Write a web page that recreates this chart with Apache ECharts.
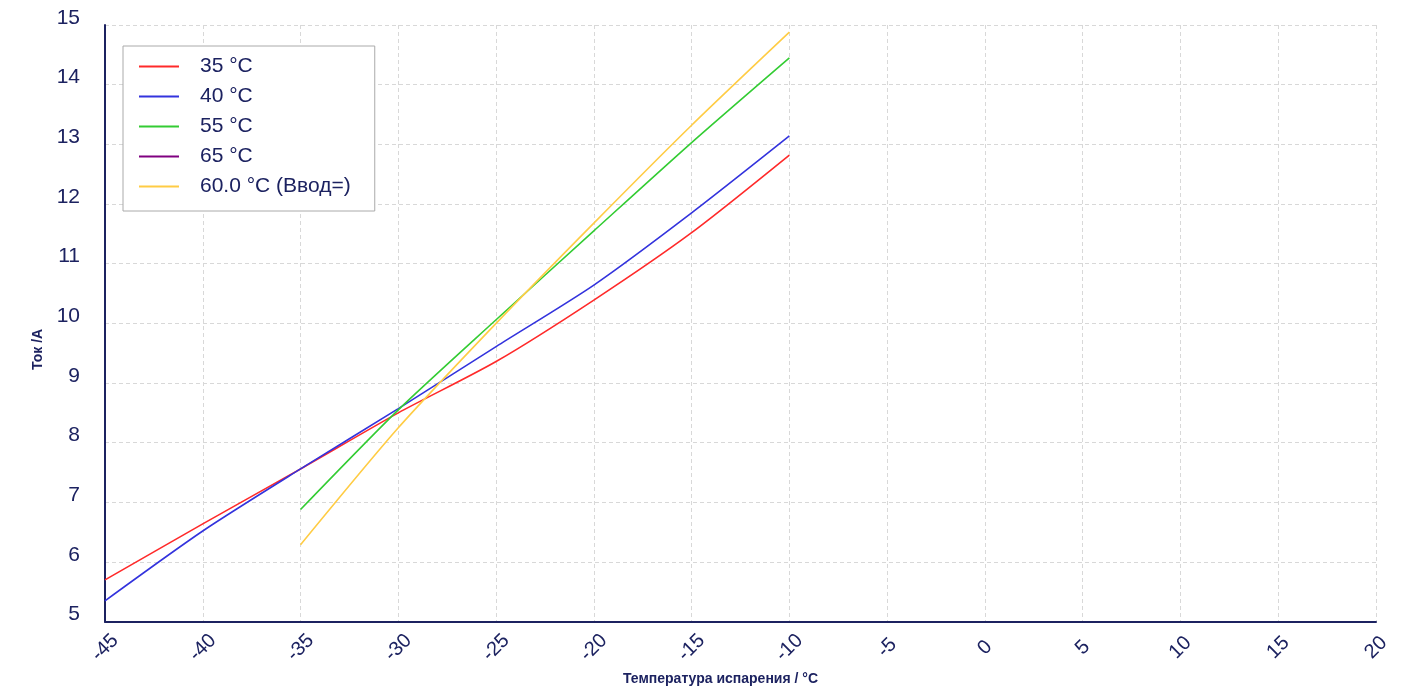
<!DOCTYPE html>
<html><head><meta charset="utf-8">
<script src="https://cdn.jsdelivr.net/npm/echarts@6/dist/echarts.min.js"></script>
<style>html,body{margin:0;padding:0;background:#fff}#c{width:1409px;height:691px}</style>
</head><body><div id="c"></div>
<script>
const xTicks = [-45,-40,-35,-30,-25,-20,-15,-10,-5,0,5,10,15,20];
const seriesNames = ['35 °C','40 °C','55 °C','65 °C','60.0 °C (Ввод=)'];
const seriesColors = ['#ff2a2a','#3333dd','#33cc33','#800080','#ffcc44'];
const temps35 = [-45,-40,-35,-30,-25,-20,-15,-10];
const vals35  = [5.70,6.64,7.56,8.50,9.36,10.39,11.52,12.82];
const temps40 = [-45,-40,-35,-30,-25,-20,-15,-10];
const vals40  = [5.35,6.52,7.56,8.57,9.61,10.64,11.85,13.14];
const temps55 = [-35,-30,-25,-20,-15,-10];
const vals55  = [6.88,8.55,10.06,11.55,13.03,14.45];
const temps65 = [];
const vals65  = [];
const temps60 = [-35,-30,-25,-20,-15,-10];
const vals60  = [6.29,8.25,10.00,11.68,13.32,14.88];

const pairs = (xs, ys) => xs.map((x,i)=>[x, ys[i]]);
const dataSets = [pairs(temps35,vals35), pairs(temps40,vals40), pairs(temps55,vals55), pairs(temps65,vals65), pairs(temps60,vals60)];

const navy = '#1c2260';
const font = 'Liberation Sans, Arial';
const chart = echarts.init(document.getElementById('c'));
chart.setOption({
  animation:false,
  grid:{left:105, right:33, top:25, bottom:69, containLabel:false},
  legend:{
    orient:'vertical', left:123, top:46,
    backgroundColor:'#fff', borderColor:'#aaa', borderWidth:1,
    padding:[10,24,14,16], itemGap:9,
    icon:'rect', itemWidth:40, itemHeight:2,
    textStyle:{fontFamily:font, fontSize:21, color:navy, padding:[0,0,0,16]},
    data:seriesNames
  },
  xAxis:{
    type:'value', min:-45, max:20, interval:5,
    name:'Температура испарения / °C', nameLocation:'middle', nameGap:44,
    nameTextStyle:{fontFamily:font, fontSize:14, fontWeight:'bold', color:navy, padding:[0,40,0,0]},
    axisLine:{onZero:false, lineStyle:{color:navy, width:2}},
    axisTick:{show:false},
    axisLabel:{rotate:45, fontFamily:font, fontSize:20, color:navy, margin:26,
      align:'center', verticalAlign:'middle', formatter:v=>String(v)},
    splitLine:{show:true, lineStyle:{color:'#d8d8d8', type:[4,3], width:1}}
  },
  yAxis:{
    type:'value', min:5, max:15, interval:1,
    name:'Ток /А', nameLocation:'middle', nameGap:60,
    nameTextStyle:{fontFamily:font, fontSize:14, fontWeight:'bold', color:navy, padding:[0,52,0,0]},
    axisLine:{show:true, onZero:false, lineStyle:{color:navy, width:2}},
    axisTick:{show:false},
    axisLabel:{fontFamily:font, fontSize:21, color:navy, margin:25, verticalAlign:'bottom', lineHeight:14},
    splitLine:{show:true, lineStyle:{color:'#d8d8d8', type:[4,3], width:1}}
  },
  series: seriesNames.map((n,i)=>({
    name:n, type:'line', data:dataSets[i], smooth:0.25, showSymbol:false,
    color:seriesColors[i], lineStyle:{width:1.6, color:seriesColors[i]}
  }))
});
</script></body></html>
